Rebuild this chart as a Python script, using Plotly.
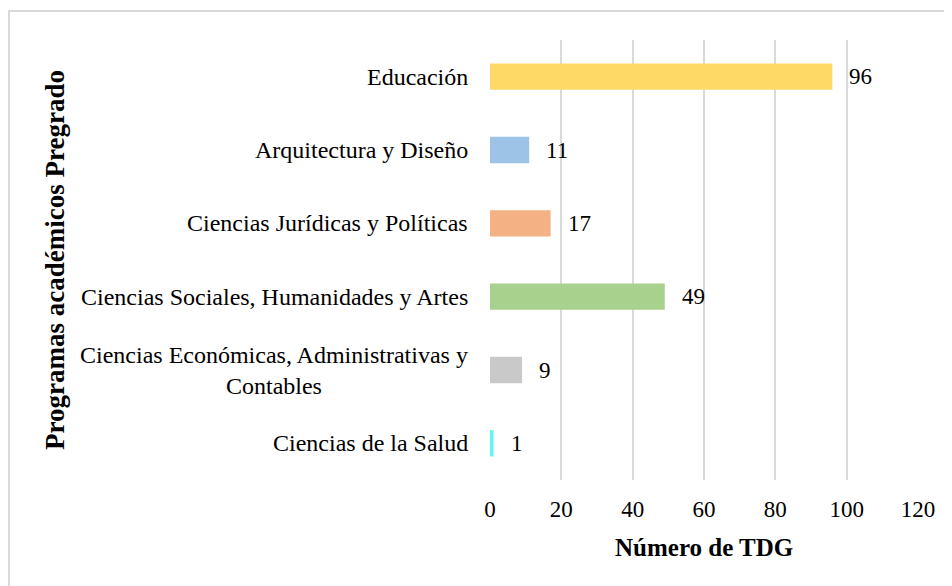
import plotly.graph_objects as go

categories = [
    "Educación",
    "Arquitectura y Diseño",
    "Ciencias Jurídicas y Políticas",
    "Ciencias Sociales, Humanidades y Artes",
    "Ciencias Económicas, Administrativas y<br>Contables",
    "Ciencias de la Salud",
]
values = [96, 11, 17, 49, 9, 1]
colors = ["#FFD966", "#9DC3E6", "#F4B183", "#A9D18E", "#C9C9C9", "#66F2F8"]
x_ticks = [0, 20, 40, 60, 80, 100, 120]

FONT = "Liberation Serif, Times New Roman, serif"
W, H = 944, 578           # page body adds an 8px margin
L, R, T, B = 482, 34, 32, 106
PW, PH = W - L - R, H - T - B

fig = go.Figure(
    go.Bar(
        x=values,
        y=categories,
        orientation="h",
        marker=dict(color=colors, line=dict(width=0)),
        hoverinfo="x+y",
    )
)

annotations = []
for c, v in zip(categories, values):
    annotations.append(dict(
        x=v, y=c, xref="x", yref="y", text=str(v), showarrow=False,
        xanchor="left", xshift=15, font=dict(family=FONT, size=23, color="#000000"),
    ))
    annotations.append(dict(
        x=0, y=c, xref="paper", yref="y", text=c, showarrow=False,
        xanchor="right", xshift=-20, align="center",
        font=dict(family=FONT, size=24, color="#000000"),
    ))

annotations.append(dict(
    text="<b>Número de TDG</b>", xref="paper", yref="paper",
    x=0.5, y=0, xanchor="center", yanchor="middle", yshift=-67,
    showarrow=False, font=dict(family=FONT, size=25, color="#000000"),
))
annotations.append(dict(
    text="<b>Programas académicos Pregrado</b>", xref="paper", yref="paper",
    x=0, y=0.5, xanchor="center", yanchor="middle", xshift=-435, textangle=-90,
    showarrow=False, font=dict(family=FONT, size=27, color="#000000"),
))

fig.update_layout(
    width=W, height=H,
    margin=dict(l=L, r=R, t=T, b=B),
    paper_bgcolor="white", plot_bgcolor="white",
    showlegend=False,
    bargap=0.64,
    annotations=annotations,
    shapes=[dict(type="rect", xref="paper", yref="paper",
                 x0=(1 - L) / PW, x1=(W - L + 20) / PW,
                 y0=-(B + 20) / PH, y1=1 + (T - 3) / PH,
                 line=dict(color="#D9D9D9", width=2), fillcolor="rgba(0,0,0,0)",
                 layer="below")],
    xaxis=dict(
        range=[0, 120], tickvals=x_ticks, ticktext=[str(t) for t in x_ticks],
        showgrid=True, gridcolor="#D9D9D9", gridwidth=1.5,
        zeroline=False, showline=False,
        ticks="outside", tickcolor="rgba(0,0,0,0)", ticklen=8,
        tickfont=dict(family=FONT, size=23, color="#000000"),
        fixedrange=True,
    ),
    yaxis=dict(
        categoryorder="array", categoryarray=categories[::-1],
        showticklabels=False, showgrid=False, zeroline=False, showline=False,
        fixedrange=True,
    ),
)

fig.write_html("out.html")
